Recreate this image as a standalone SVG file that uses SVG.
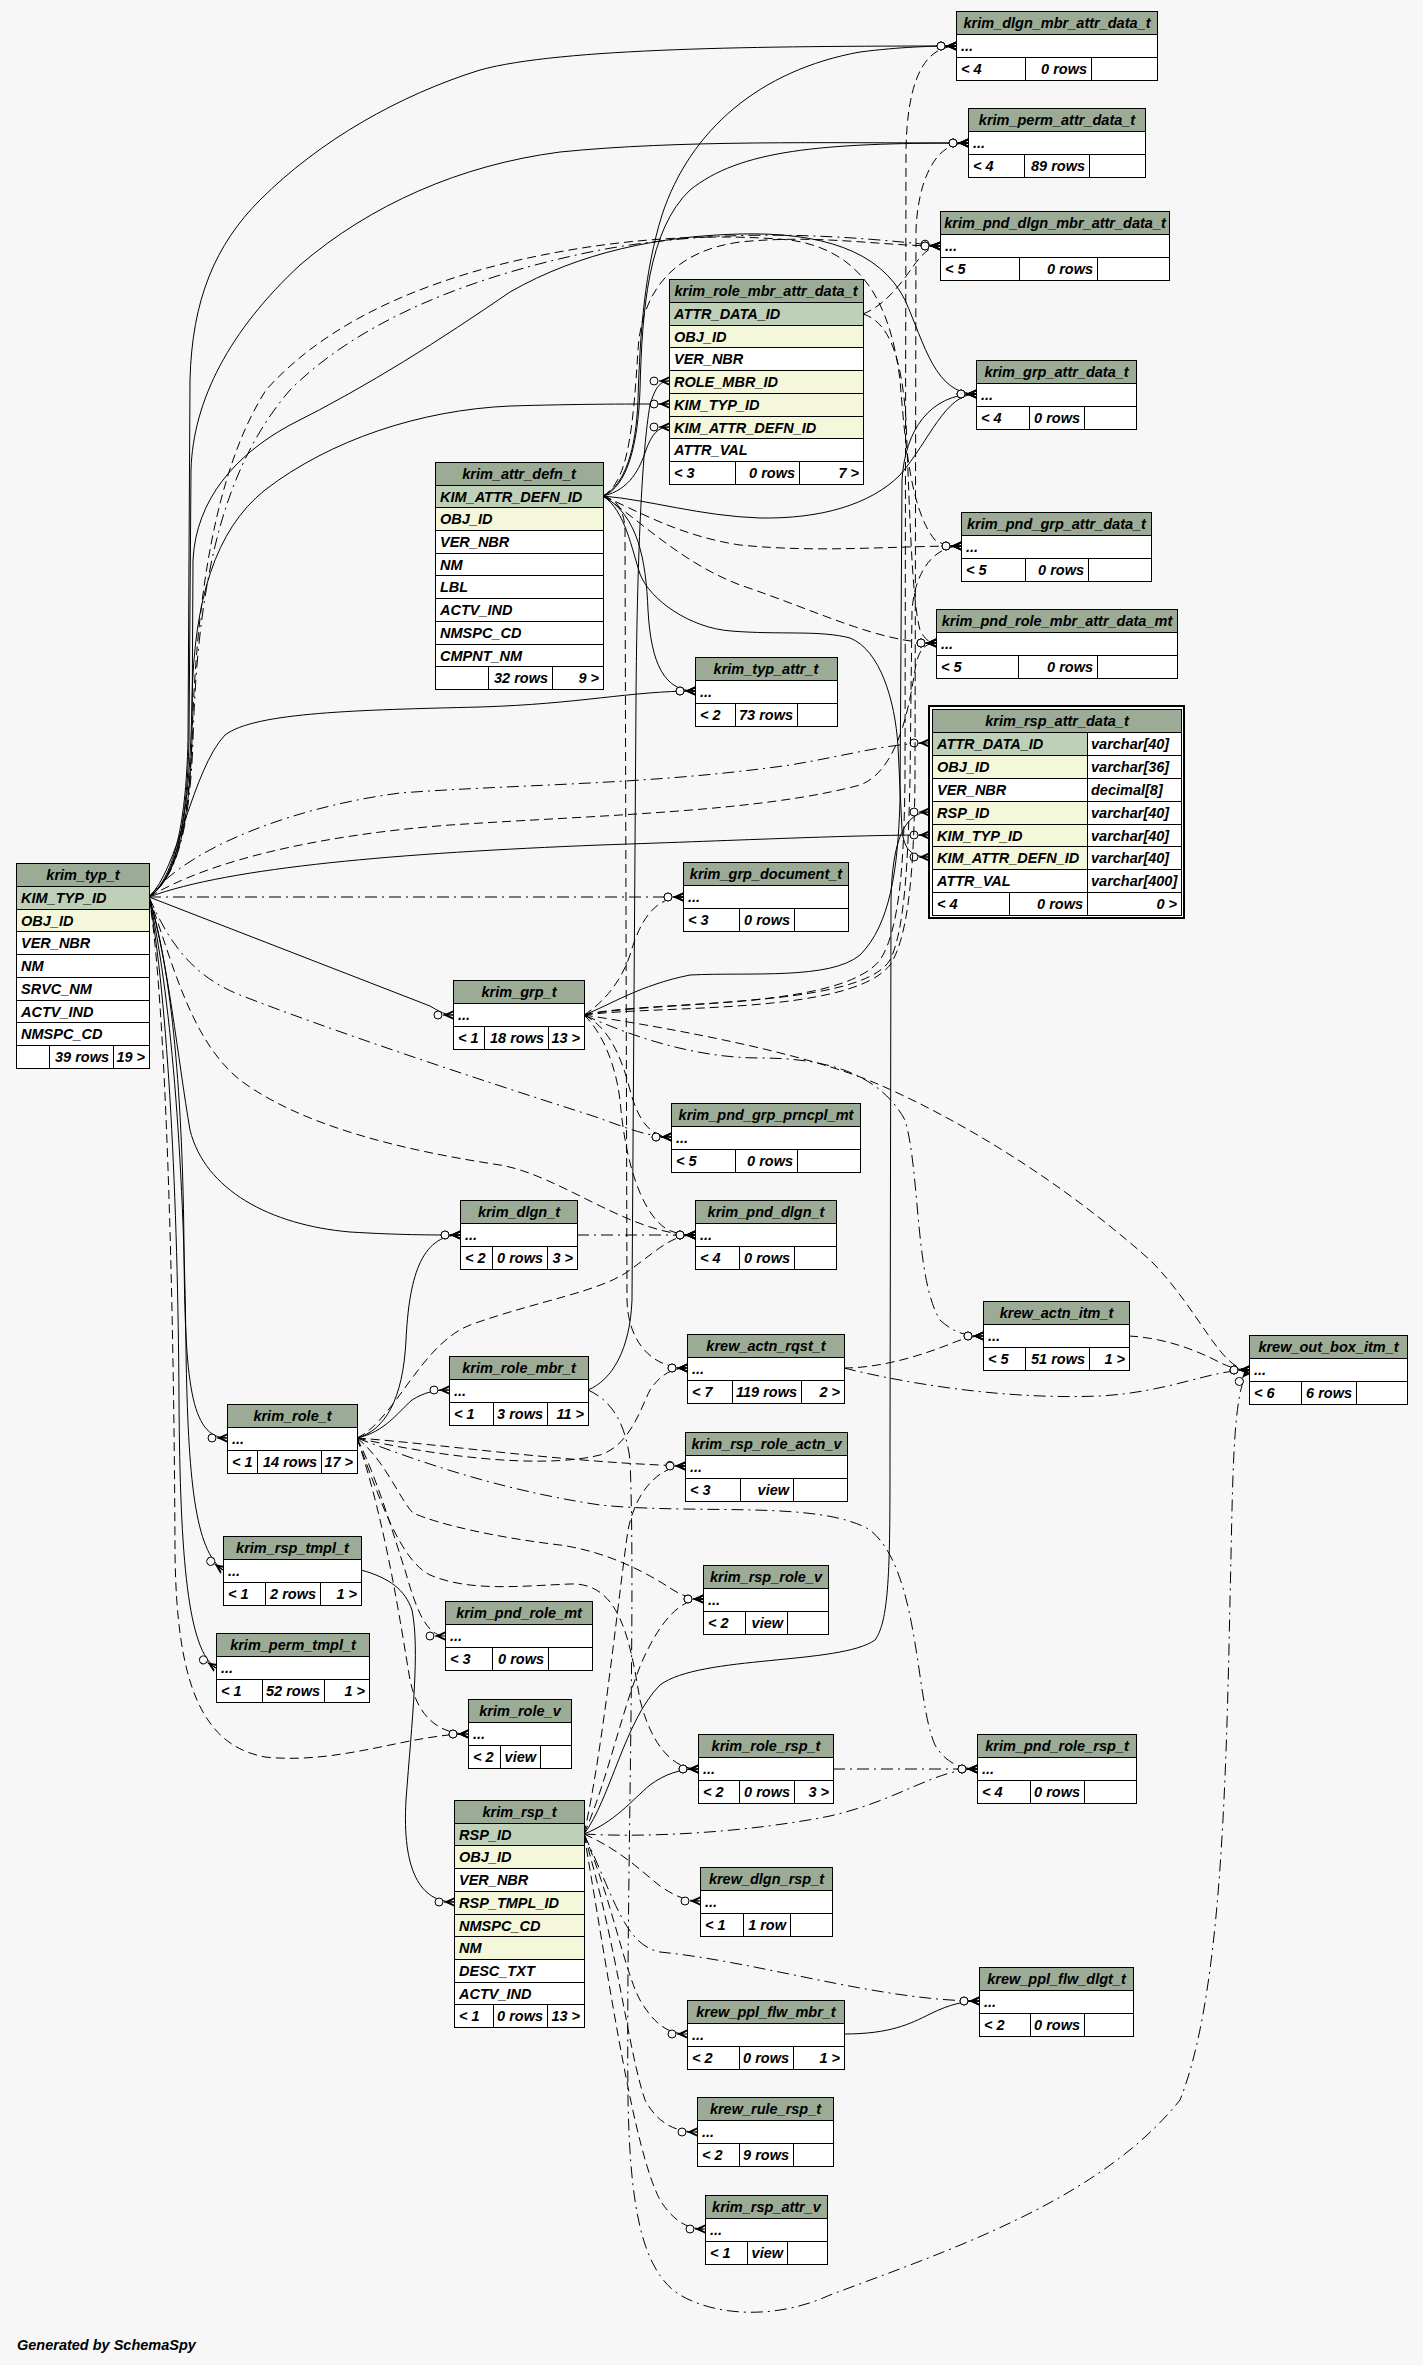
<svg xmlns="http://www.w3.org/2000/svg" width="1423" height="2365" viewBox="0 0 1423 2365">
<style>
text{font-family:"Liberation Sans",Arial,Helvetica,sans-serif;font-weight:bold;font-style:italic;font-size:14.5px;fill:#000}
.c{text-anchor:middle}
.r{text-anchor:end}
.h{fill:#9bab96;stroke:#000}
.pk{fill:#bed1b8;stroke:#000}
.ix{fill:#f4f7da;stroke:#000}
.w{fill:#fff;stroke:#000}
.sp{stroke:#000;fill:none}
.e{fill:none;stroke:#000;stroke-width:1;marker-end:url(#crow)}
.d{stroke-dasharray:9 5}
.dd{stroke-dasharray:12 5 2 5}
</style>
<defs>
<marker id="crow" viewBox="-22 -7 24 14" refX="0" refY="0" markerWidth="24" markerHeight="14" markerUnits="userSpaceOnUse" orient="auto">
<circle cx="-15" cy="0" r="4" fill="#f7f7f7" stroke="#000" stroke-width="1"/>
<path d="M0,-4.5 L-10,0 L0,4.5 L0,2.5 L-5,0 L0,-2.5 Z" fill="#000" stroke="none"/>
<path d="M-10,0 L0,0" stroke="#000" stroke-width="1"/>
</marker>
</defs>
<rect x="0" y="0" width="1423" height="2365" fill="#f7f7f7"/>

<g id="connectors">
<!-- from krim_typ_t -->
<path class="e" d="M149,897 C172,880 186,830 188,740 L190,380 C192,300 215,245 260,200 C320,140 400,95 480,70 C560,48 760,46 956,46"/>
<path class="e" d="M149,897 C174,880 187,830 189,740 L191,470 C193,400 230,330 300,265 C370,205 460,165 560,152 C680,140 820,143 968,143"/>
<path class="e dd" d="M149,897 C176,878 190,830 193,740 C198,560 230,460 290,390 C350,330 450,280 600,250 C730,226 850,236 940,246"/>
<path class="e d" d="M149,897 C176,878 188,830 192,740 C196,600 215,470 266,390 C320,330 400,290 502,264 C600,240 700,232 790,240 C860,250 890,300 900,380 C905,440 910,510 935,540 C945,546 952,546 961,546"/>
<path class="e" d="M149,897 C176,878 189,830 192,740 L193,560 C196,500 235,455 290,425 C370,385 440,340 510,292 C580,252 660,236 740,234 C820,232 880,250 905,300 C925,345 935,394 976,394"/>
<path class="e" d="M149,897 C177,878 190,820 192,700 C194,600 215,530 265,490 C330,440 420,410 510,406 C580,404 620,404 669,404"/>
<path class="e" d="M149,897 C178,870 192,770 225,735 C255,712 360,710 480,707 C580,704 630,691 695,691"/>
<path class="e d" d="M149,897 C210,860 320,835 450,825 C600,815 760,812 860,785 C900,770 910,700 915,670 C918,650 925,643 936,643"/>
<path class="e dd" d="M149,897 C190,845 300,806 400,793 C520,784 650,785 790,765 C850,755 890,743 929,743"/>
<path class="e" d="M149,897 C230,867 400,853 600,845 C750,840 850,835 929,835"/>
<path class="e dd" d="M149,897 L683,897"/>
<path class="e" d="M149,897 L430,1006 C440,1012 446,1015 453,1015"/>
<path class="e dd" d="M149,897 C168,940 190,975 240,995 C330,1030 480,1080 590,1115 C620,1125 645,1137 671,1137"/>
<path class="e d" d="M149,897 C172,960 190,1040 240,1080 C300,1125 400,1150 500,1165 C560,1175 630,1235 695,1235"/>
<path class="e" d="M149,897 C168,960 178,1060 190,1130 C205,1190 270,1225 350,1232 C400,1235 430,1235 460,1235"/>
<path class="e" d="M149,897 C172,970 183,1100 184,1250 C185,1380 190,1438 227,1438"/>
<path class="e" d="M149,897 C170,990 184,1150 186,1350 C188,1480 195,1550 223,1570"/>
<path class="e" d="M149,897 C168,1000 178,1200 179,1400 C180,1560 188,1650 216,1668"/>
<path class="e d" d="M149,897 C166,1000 174,1300 175,1550 C176,1680 200,1745 265,1757 C340,1765 410,1734 468,1734"/>
<!-- from krim_attr_defn_t -->
<path class="e" d="M603,496 C625,485 636,450 638,400 C640,330 645,270 662,215 C690,130 760,70 860,52 C900,47 930,46 956,46"/>
<path class="e" d="M603,496 C627,487 638,445 640,390 C642,310 648,230 690,190 C740,150 820,143 968,143"/>
<path class="e d" d="M603,496 C628,482 633,430 638,350 C642,285 680,250 740,242 C820,234 880,246 940,246"/>
<path class="e" d="M603,496 C630,490 640,468 646,450 C652,434 658,427 669,427"/>
<path class="e" d="M603,496 C650,500 700,516 760,518 C820,519 870,505 900,475 C930,440 945,394 976,394"/>
<path class="e d" d="M603,496 C640,512 680,536 740,545 C820,553 890,546 961,546"/>
<path class="e d" d="M603,496 C640,520 680,562 740,585 C820,612 880,643 936,643"/>
<path class="e" d="M603,496 C638,515 646,560 648,610 C651,665 665,691 695,691"/>
<path class="e" d="M603,496 C625,510 632,550 640,574 C650,600 690,628 731,631 C780,635 820,630 850,638 C880,650 895,700 898,746 L902,830 C904,850 912,857 929,857"/>
<path class="e d" d="M603,496 C618,500 624,510 625,530 L627,1300 C628,1340 650,1368 687,1368"/>
<!-- from krim_role_mbr_attr_data_t -->
<path class="e d" d="M863,314 C885,305 900,285 912,268 C922,254 930,246 940,246"/>
<path class="e d" d="M863,314 C890,322 902,360 906,420 C910,520 912,600 920,630 C925,640 930,643 936,643"/>
<!-- from krim_grp_t -->
<path class="e" d="M584,1015 C610,1005 640,985 690,975 C750,972 830,980 860,955 C890,925 898,870 900,800 L902,480 C905,430 930,394 976,394"/>
<path class="e d" d="M584,1015 C640,1000 860,1010 890,960 C905,930 908,860 910,780 L912,610 C915,570 935,546 961,546"/>
<path class="e d" d="M584,1015 C600,1005 620,985 630,955 C640,920 655,897 683,897"/>
<path class="e d" d="M584,1015 C605,1025 620,1050 630,1090 C638,1120 650,1137 671,1137"/>
<path class="e d" d="M584,1015 C650,1025 800,1050 880,1085 C960,1120 1060,1180 1150,1260 C1200,1310 1220,1370 1249,1370"/>
<path class="e dd" d="M584,1015 C640,1040 700,1058 760,1058 C830,1058 880,1075 905,1120 C920,1170 915,1280 940,1320 C955,1334 968,1336 983,1336"/>
<path class="e d" d="M584,1015 C660,1000 840,1010 880,960 C900,930 904,860 905,780 L906,150 C907,90 920,55 945,48 C950,46 953,46 956,46"/>
<path class="e d" d="M584,1015 C660,1005 850,1015 890,965 C910,935 914,860 915,780 L916,230 C918,180 935,150 955,145 C960,143 964,143 968,143"/>
<path class="e d" d="M584,1015 C600,1030 615,1060 620,1100 C625,1160 640,1210 665,1228 C675,1234 685,1235 695,1235"/>
<!-- from krim_role_t -->
<path class="e" d="M357,1438 C385,1432 398,1412 412,1400 C425,1392 435,1390 449,1390"/>
<path class="e" d="M357,1438 C385,1430 403,1400 406,1340 C409,1280 420,1235 460,1235"/>
<path class="e d" d="M357,1438 C395,1420 420,1345 470,1325 C540,1300 600,1292 630,1270 C660,1248 672,1235 695,1235"/>
<path class="e d" d="M357,1438 C450,1445 560,1462 685,1466"/>
<path class="e dd" d="M357,1438 C420,1462 500,1490 600,1505 C700,1515 820,1500 870,1530 C920,1570 915,1700 935,1745 C945,1762 960,1769 977,1769"/>
<path class="e d" d="M357,1438 C385,1460 400,1500 413,1513 C440,1525 500,1538 560,1545 C610,1552 650,1575 670,1588 C682,1596 692,1599 703,1599"/>
<path class="e d" d="M357,1438 C378,1480 395,1540 405,1570 C415,1605 425,1636 445,1636"/>
<path class="e d" d="M357,1438 C385,1520 400,1620 410,1680 C418,1718 440,1734 468,1734"/>
<path class="e d" d="M357,1438 C380,1500 400,1560 430,1575 C470,1592 520,1586 570,1584 C620,1582 630,1640 640,1700 C650,1740 670,1769 698,1769"/>
<path class="e d" d="M357,1438 C430,1455 540,1470 600,1455 C630,1445 640,1410 650,1390 C660,1375 672,1368 687,1368"/>
<!-- from krim_rsp_t -->
<path class="e" d="M584,1834 C610,1800 625,1720 660,1685 C700,1655 840,1665 875,1640 C890,1620 890,1560 890,1450 L891,900 C892,840 905,812 929,812"/>
<path class="e" d="M584,1834 C615,1822 632,1800 650,1785 C665,1774 680,1769 698,1769"/>
<path class="e dd" d="M584,1834 C650,1838 750,1832 830,1816 C900,1800 935,1769 977,1769"/>
<path class="e d" d="M584,1834 C620,1850 640,1870 660,1886 C676,1897 688,1901 700,1901"/>
<path class="e dd" d="M584,1834 C615,1900 625,1945 660,1952 C760,1962 880,2001 979,2001"/>
<path class="e d" d="M584,1834 C612,1900 624,1970 640,2000 C654,2024 668,2034 687,2034"/>
<path class="e d" d="M584,1834 C618,1950 628,2050 645,2100 C658,2124 676,2132 697,2132"/>
<path class="e d" d="M584,1834 C612,2000 634,2150 660,2200 C674,2222 688,2229 705,2229"/>
<path class="e d" d="M584,1834 C608,1780 624,1700 645,1655 C662,1620 680,1599 703,1599"/>
<path class="e d" d="M584,1834 C603,1750 618,1600 628,1530 C636,1490 660,1466 685,1466"/>
<!-- from krim_role_mbr_t -->
<path class="e dd" d="M588,1390 C610,1400 625,1420 630,1460 C636,1600 626,1900 628,2100 C630,2200 640,2270 680,2295 C720,2318 780,2318 830,2295 C950,2250 1100,2200 1180,2100 C1220,2000 1226,1800 1230,1600 C1233,1480 1232,1390 1249,1370"/>
<path class="e" d="M588,1390 C612,1380 630,1350 632,1300 L636,700 C637,560 642,450 650,405 C655,388 660,381 669,381"/>
<!-- others -->
<path class="e d" d="M844,1368 C880,1368 920,1356 950,1344 C962,1339 972,1336 983,1336"/>
<path class="e dd" d="M844,1368 C900,1382 1000,1400 1100,1396 C1170,1392 1210,1370 1249,1370"/>
<path class="e d" d="M1129,1336 C1165,1338 1195,1350 1215,1360 C1228,1367 1238,1370 1249,1370"/>
<path class="e dd" d="M577,1235 L695,1235"/>
<path class="e" d="M361,1570 C390,1578 405,1590 412,1610 C420,1650 412,1720 406,1800 C402,1870 420,1902 454,1902"/>
<path class="e dd" d="M833,1769 L977,1769"/>
<path class="e" d="M844,2034 C890,2034 910,2024 930,2014 C950,2004 965,2001 979,2001"/>
</g>

<g id="krim_dlgn_mbr_attr_data_t">
<rect class="h" x="956.5" y="11.5" width="201" height="23"/>
<rect class="w" x="956.5" y="34.5" width="201" height="23"/>
<rect class="w" x="956.5" y="57.5" width="201" height="23"/>
<path class="sp" d="M1025.5,57.5V80.5M1091.5,57.5V80.5"/>
<text class="c" x="1057" y="28">krim_dlgn_mbr_attr_data_t</text>
<text x="961" y="51">...</text>
<text x="961" y="74">&lt; 4</text>
<text class="r" x="1087" y="74">0 rows</text>
</g>

<g id="krim_perm_attr_data_t">
<rect class="h" x="968.5" y="108.5" width="177" height="23"/>
<rect class="w" x="968.5" y="131.5" width="177" height="23"/>
<rect class="w" x="968.5" y="154.5" width="177" height="23"/>
<path class="sp" d="M1024.5,154.5V177.5M1089.5,154.5V177.5"/>
<text class="c" x="1057" y="125">krim_perm_attr_data_t</text>
<text x="973" y="148">...</text>
<text x="973" y="171">&lt; 4</text>
<text class="r" x="1085" y="171">89 rows</text>
</g>

<g id="krim_pnd_dlgn_mbr_attr_data_t">
<rect class="h" x="940.5" y="211.5" width="229" height="23"/>
<rect class="w" x="940.5" y="234.5" width="229" height="23"/>
<rect class="w" x="940.5" y="257.5" width="229" height="23"/>
<path class="sp" d="M1019.5,257.5V280.5M1097.5,257.5V280.5"/>
<text class="c" x="1055" y="228">krim_pnd_dlgn_mbr_attr_data_t</text>
<text x="945" y="251">...</text>
<text x="945" y="274">&lt; 5</text>
<text class="r" x="1093" y="274">0 rows</text>
</g>

<g id="krim_role_mbr_attr_data_t">
<rect class="h" x="669.5" y="279.5" width="194" height="23"/>
<rect class="pk" x="669.5" y="302.5" width="194" height="23"/>
<rect class="ix" x="669.5" y="325.5" width="194" height="22"/>
<rect class="w" x="669.5" y="347.5" width="194" height="23"/>
<rect class="ix" x="669.5" y="370.5" width="194" height="23"/>
<rect class="ix" x="669.5" y="393.5" width="194" height="23"/>
<rect class="ix" x="669.5" y="416.5" width="194" height="22"/>
<rect class="w" x="669.5" y="438.5" width="194" height="23"/>
<rect class="w" x="669.5" y="461.5" width="194" height="23"/>
<path class="sp" d="M735.5,461.5V484.5M799.5,461.5V484.5"/>
<text class="c" x="766" y="296">krim_role_mbr_attr_data_t</text>
<text x="674" y="319">ATTR_DATA_ID</text>
<text x="674" y="341.5">OBJ_ID</text>
<text x="674" y="364">VER_NBR</text>
<text x="674" y="387">ROLE_MBR_ID</text>
<text x="674" y="410">KIM_TYP_ID</text>
<text x="674" y="432.5">KIM_ATTR_DEFN_ID</text>
<text x="674" y="455">ATTR_VAL</text>
<text x="674" y="478">&lt; 3</text>
<text class="r" x="795" y="478">0 rows</text>
<text class="r" x="859" y="478">7 &gt;</text>
</g>

<g id="krim_attr_defn_t">
<rect class="h" x="435.5" y="462.5" width="168" height="23"/>
<rect class="pk" x="435.5" y="485.5" width="168" height="22"/>
<rect class="ix" x="435.5" y="507.5" width="168" height="23"/>
<rect class="w" x="435.5" y="530.5" width="168" height="23"/>
<rect class="w" x="435.5" y="553.5" width="168" height="22"/>
<rect class="w" x="435.5" y="575.5" width="168" height="23"/>
<rect class="w" x="435.5" y="598.5" width="168" height="23"/>
<rect class="w" x="435.5" y="621.5" width="168" height="23"/>
<rect class="w" x="435.5" y="644.5" width="168" height="22"/>
<rect class="w" x="435.5" y="666.5" width="168" height="23"/>
<path class="sp" d="M488.5,666.5V689.5M552.5,666.5V689.5"/>
<text class="c" x="519" y="479">krim_attr_defn_t</text>
<text x="440" y="501.5">KIM_ATTR_DEFN_ID</text>
<text x="440" y="524">OBJ_ID</text>
<text x="440" y="547">VER_NBR</text>
<text x="440" y="569.5">NM</text>
<text x="440" y="592">LBL</text>
<text x="440" y="615">ACTV_IND</text>
<text x="440" y="638">NMSPC_CD</text>
<text x="440" y="660.5">CMPNT_NM</text>
<text class="r" x="548" y="683">32 rows</text>
<text class="r" x="599" y="683">9 &gt;</text>
</g>

<g id="krim_typ_attr_t">
<rect class="h" x="695.5" y="657.5" width="142" height="23"/>
<rect class="w" x="695.5" y="680.5" width="142" height="23"/>
<rect class="w" x="695.5" y="703.5" width="142" height="23"/>
<path class="sp" d="M735.5,703.5V726.5M797.5,703.5V726.5"/>
<text class="c" x="766" y="674">krim_typ_attr_t</text>
<text x="700" y="697">...</text>
<text x="700" y="720">&lt; 2</text>
<text class="r" x="793" y="720">73 rows</text>
</g>

<g id="krim_grp_attr_data_t">
<rect class="h" x="976.5" y="360.5" width="160" height="23"/>
<rect class="w" x="976.5" y="383.5" width="160" height="23"/>
<rect class="w" x="976.5" y="406.5" width="160" height="23"/>
<path class="sp" d="M1029.5,406.5V429.5M1084.5,406.5V429.5"/>
<text class="c" x="1056.5" y="377">krim_grp_attr_data_t</text>
<text x="981" y="400">...</text>
<text x="981" y="423">&lt; 4</text>
<text class="r" x="1080" y="423">0 rows</text>
</g>

<g id="krim_pnd_grp_attr_data_t">
<rect class="h" x="961.5" y="512.5" width="190" height="23"/>
<rect class="w" x="961.5" y="535.5" width="190" height="23"/>
<rect class="w" x="961.5" y="558.5" width="190" height="23"/>
<path class="sp" d="M1025.5,558.5V581.5M1088.5,558.5V581.5"/>
<text class="c" x="1056.5" y="529">krim_pnd_grp_attr_data_t</text>
<text x="966" y="552">...</text>
<text x="966" y="575">&lt; 5</text>
<text class="r" x="1084" y="575">0 rows</text>
</g>

<g id="krim_pnd_role_mbr_attr_data_mt">
<rect class="h" x="936.5" y="609.5" width="241" height="23"/>
<rect class="w" x="936.5" y="632.5" width="241" height="23"/>
<rect class="w" x="936.5" y="655.5" width="241" height="23"/>
<path class="sp" d="M1018.5,655.5V678.5M1097.5,655.5V678.5"/>
<text class="c" x="1057" y="626">krim_pnd_role_mbr_attr_data_mt</text>
<text x="941" y="649">...</text>
<text x="941" y="672">&lt; 5</text>
<text class="r" x="1093" y="672">0 rows</text>
</g>

<g id="krim_rsp_attr_data_t">
<rect x="929" y="706" width="255" height="212" fill="#fff" stroke="#000" stroke-width="2"/>
<rect class="h" x="932.5" y="709.5" width="249" height="23"/>
<rect class="pk" x="932.5" y="732.5" width="155" height="23"/>
<rect class="w" x="1087.5" y="732.5" width="94" height="23"/>
<rect class="ix" x="932.5" y="755.5" width="155" height="23"/>
<rect class="w" x="1087.5" y="755.5" width="94" height="23"/>
<rect class="w" x="932.5" y="778.5" width="155" height="23"/>
<rect class="w" x="1087.5" y="778.5" width="94" height="23"/>
<rect class="ix" x="932.5" y="801.5" width="155" height="23"/>
<rect class="w" x="1087.5" y="801.5" width="94" height="23"/>
<rect class="ix" x="932.5" y="824.5" width="155" height="22"/>
<rect class="w" x="1087.5" y="824.5" width="94" height="22"/>
<rect class="ix" x="932.5" y="846.5" width="155" height="23"/>
<rect class="w" x="1087.5" y="846.5" width="94" height="23"/>
<rect class="w" x="932.5" y="869.5" width="155" height="23"/>
<rect class="w" x="1087.5" y="869.5" width="94" height="23"/>
<rect class="w" x="932.5" y="892.5" width="249" height="23"/>
<path class="sp" d="M1009.5,892.5V915.5M1087.5,892.5V915.5"/>
<text class="c" x="1057" y="726">krim_rsp_attr_data_t</text>
<text x="937" y="749">ATTR_DATA_ID</text>
<text x="1091" y="749">varchar[40]</text>
<text x="937" y="772">OBJ_ID</text>
<text x="1091" y="772">varchar[36]</text>
<text x="937" y="795">VER_NBR</text>
<text x="1091" y="795">decimal[8]</text>
<text x="937" y="818">RSP_ID</text>
<text x="1091" y="818">varchar[40]</text>
<text x="937" y="840.5">KIM_TYP_ID</text>
<text x="1091" y="840.5">varchar[40]</text>
<text x="937" y="863">KIM_ATTR_DEFN_ID</text>
<text x="1091" y="863">varchar[40]</text>
<text x="937" y="886">ATTR_VAL</text>
<text x="1091" y="886">varchar[400]</text>
<text x="937" y="909">&lt; 4</text>
<text class="r" x="1083" y="909">0 rows</text>
<text class="r" x="1177" y="909">0 &gt;</text>
</g>

<g id="krim_typ_t">
<rect class="h" x="16.5" y="863.5" width="133" height="23"/>
<rect class="pk" x="16.5" y="886.5" width="133" height="23"/>
<rect class="ix" x="16.5" y="909.5" width="133" height="22"/>
<rect class="w" x="16.5" y="931.5" width="133" height="23"/>
<rect class="w" x="16.5" y="954.5" width="133" height="23"/>
<rect class="w" x="16.5" y="977.5" width="133" height="23"/>
<rect class="w" x="16.5" y="1000.5" width="133" height="22"/>
<rect class="w" x="16.5" y="1022.5" width="133" height="23"/>
<rect class="w" x="16.5" y="1045.5" width="133" height="23"/>
<path class="sp" d="M49.5,1045.5V1068.5M113.5,1045.5V1068.5"/>
<text class="c" x="83" y="880">krim_typ_t</text>
<text x="21" y="903">KIM_TYP_ID</text>
<text x="21" y="925.5">OBJ_ID</text>
<text x="21" y="948">VER_NBR</text>
<text x="21" y="971">NM</text>
<text x="21" y="994">SRVC_NM</text>
<text x="21" y="1016.5">ACTV_IND</text>
<text x="21" y="1039">NMSPC_CD</text>
<text class="r" x="109" y="1062">39 rows</text>
<text class="r" x="145" y="1062">19 &gt;</text>
</g>

<g id="krim_grp_document_t">
<rect class="h" x="683.5" y="862.5" width="165" height="23"/>
<rect class="w" x="683.5" y="885.5" width="165" height="23"/>
<rect class="w" x="683.5" y="908.5" width="165" height="23"/>
<path class="sp" d="M739.5,908.5V931.5M794.5,908.5V931.5"/>
<text class="c" x="766" y="879">krim_grp_document_t</text>
<text x="688" y="902">...</text>
<text x="688" y="925">&lt; 3</text>
<text class="r" x="790" y="925">0 rows</text>
</g>

<g id="krim_grp_t">
<rect class="h" x="453.5" y="980.5" width="131" height="23"/>
<rect class="w" x="453.5" y="1003.5" width="131" height="23"/>
<rect class="w" x="453.5" y="1026.5" width="131" height="23"/>
<path class="sp" d="M484.5,1026.5V1049.5M548.5,1026.5V1049.5"/>
<text class="c" x="519" y="997">krim_grp_t</text>
<text x="458" y="1020">...</text>
<text x="458" y="1043">&lt; 1</text>
<text class="r" x="544" y="1043">18 rows</text>
<text class="r" x="580" y="1043">13 &gt;</text>
</g>

<g id="krim_pnd_grp_prncpl_mt">
<rect class="h" x="671.5" y="1103.5" width="189" height="23"/>
<rect class="w" x="671.5" y="1126.5" width="189" height="23"/>
<rect class="w" x="671.5" y="1149.5" width="189" height="23"/>
<path class="sp" d="M735.5,1149.5V1172.5M797.5,1149.5V1172.5"/>
<text class="c" x="766" y="1120">krim_pnd_grp_prncpl_mt</text>
<text x="676" y="1143">...</text>
<text x="676" y="1166">&lt; 5</text>
<text class="r" x="793" y="1166">0 rows</text>
</g>

<g id="krim_dlgn_t">
<rect class="h" x="460.5" y="1200.5" width="117" height="23"/>
<rect class="w" x="460.5" y="1223.5" width="117" height="23"/>
<rect class="w" x="460.5" y="1246.5" width="117" height="23"/>
<path class="sp" d="M492.5,1246.5V1269.5M547.5,1246.5V1269.5"/>
<text class="c" x="519" y="1217">krim_dlgn_t</text>
<text x="465" y="1240">...</text>
<text x="465" y="1263">&lt; 2</text>
<text class="r" x="543" y="1263">0 rows</text>
<text class="r" x="573" y="1263">3 &gt;</text>
</g>

<g id="krim_pnd_dlgn_t">
<rect class="h" x="695.5" y="1200.5" width="141" height="23"/>
<rect class="w" x="695.5" y="1223.5" width="141" height="23"/>
<rect class="w" x="695.5" y="1246.5" width="141" height="23"/>
<path class="sp" d="M739.5,1246.5V1269.5M794.5,1246.5V1269.5"/>
<text class="c" x="766" y="1217">krim_pnd_dlgn_t</text>
<text x="700" y="1240">...</text>
<text x="700" y="1263">&lt; 4</text>
<text class="r" x="790" y="1263">0 rows</text>
</g>

<g id="krew_actn_itm_t">
<rect class="h" x="983.5" y="1301.5" width="146" height="23"/>
<rect class="w" x="983.5" y="1324.5" width="146" height="23"/>
<rect class="w" x="983.5" y="1347.5" width="146" height="23"/>
<path class="sp" d="M1025.5,1347.5V1370.5M1089.5,1347.5V1370.5"/>
<text class="c" x="1056.5" y="1318">krew_actn_itm_t</text>
<text x="988" y="1341">...</text>
<text x="988" y="1364">&lt; 5</text>
<text class="r" x="1085" y="1364">51 rows</text>
<text class="r" x="1125" y="1364">1 &gt;</text>
</g>

<g id="krew_out_box_itm_t">
<rect class="h" x="1249.5" y="1335.5" width="158" height="23"/>
<rect class="w" x="1249.5" y="1358.5" width="158" height="23"/>
<rect class="w" x="1249.5" y="1381.5" width="158" height="23"/>
<path class="sp" d="M1301.5,1381.5V1404.5M1356.5,1381.5V1404.5"/>
<text class="c" x="1328.5" y="1352">krew_out_box_itm_t</text>
<text x="1254" y="1375">...</text>
<text x="1254" y="1398">&lt; 6</text>
<text class="r" x="1352" y="1398">6 rows</text>
</g>

<g id="krim_role_mbr_t">
<rect class="h" x="449.5" y="1356.5" width="139" height="23"/>
<rect class="w" x="449.5" y="1379.5" width="139" height="23"/>
<rect class="w" x="449.5" y="1402.5" width="139" height="23"/>
<path class="sp" d="M493.5,1402.5V1425.5M547.5,1402.5V1425.5"/>
<text class="c" x="519" y="1373">krim_role_mbr_t</text>
<text x="454" y="1396">...</text>
<text x="454" y="1419">&lt; 1</text>
<text class="r" x="543" y="1419">3 rows</text>
<text class="r" x="584" y="1419">11 &gt;</text>
</g>

<g id="krew_actn_rqst_t">
<rect class="h" x="687.5" y="1334.5" width="157" height="23"/>
<rect class="w" x="687.5" y="1357.5" width="157" height="23"/>
<rect class="w" x="687.5" y="1380.5" width="157" height="23"/>
<path class="sp" d="M732.5,1380.5V1403.5M801.5,1380.5V1403.5"/>
<text class="c" x="766" y="1351">krew_actn_rqst_t</text>
<text x="692" y="1374">...</text>
<text x="692" y="1397">&lt; 7</text>
<text class="r" x="797" y="1397">119 rows</text>
<text class="r" x="840" y="1397">2 &gt;</text>
</g>

<g id="krim_role_t">
<rect class="h" x="227.5" y="1404.5" width="130" height="23"/>
<rect class="w" x="227.5" y="1427.5" width="130" height="23"/>
<rect class="w" x="227.5" y="1450.5" width="130" height="23"/>
<path class="sp" d="M257.5,1450.5V1473.5M321.5,1450.5V1473.5"/>
<text class="c" x="292.5" y="1421">krim_role_t</text>
<text x="232" y="1444">...</text>
<text x="232" y="1467">&lt; 1</text>
<text class="r" x="317" y="1467">14 rows</text>
<text class="r" x="353" y="1467">17 &gt;</text>
</g>

<g id="krim_rsp_role_actn_v">
<rect class="h" x="685.5" y="1432.5" width="162" height="23"/>
<rect class="w" x="685.5" y="1455.5" width="162" height="23"/>
<rect class="w" x="685.5" y="1478.5" width="162" height="23"/>
<path class="sp" d="M740.5,1478.5V1501.5M793.5,1478.5V1501.5"/>
<text class="c" x="766.5" y="1449">krim_rsp_role_actn_v</text>
<text x="690" y="1472">...</text>
<text x="690" y="1495">&lt; 3</text>
<text class="r" x="789" y="1495">view</text>
</g>

<g id="krim_rsp_tmpl_t">
<rect class="h" x="223.5" y="1536.5" width="138" height="23"/>
<rect class="w" x="223.5" y="1559.5" width="138" height="23"/>
<rect class="w" x="223.5" y="1582.5" width="138" height="23"/>
<path class="sp" d="M265.5,1582.5V1605.5M320.5,1582.5V1605.5"/>
<text class="c" x="292.5" y="1553">krim_rsp_tmpl_t</text>
<text x="228" y="1576">...</text>
<text x="228" y="1599">&lt; 1</text>
<text class="r" x="316" y="1599">2 rows</text>
<text class="r" x="357" y="1599">1 &gt;</text>
</g>

<g id="krim_perm_tmpl_t">
<rect class="h" x="216.5" y="1633.5" width="153" height="23"/>
<rect class="w" x="216.5" y="1656.5" width="153" height="23"/>
<rect class="w" x="216.5" y="1679.5" width="153" height="23"/>
<path class="sp" d="M262.5,1679.5V1702.5M324.5,1679.5V1702.5"/>
<text class="c" x="293" y="1650">krim_perm_tmpl_t</text>
<text x="221" y="1673">...</text>
<text x="221" y="1696">&lt; 1</text>
<text class="r" x="320" y="1696">52 rows</text>
<text class="r" x="365" y="1696">1 &gt;</text>
</g>

<g id="krim_pnd_role_mt">
<rect class="h" x="445.5" y="1601.5" width="147" height="23"/>
<rect class="w" x="445.5" y="1624.5" width="147" height="23"/>
<rect class="w" x="445.5" y="1647.5" width="147" height="23"/>
<path class="sp" d="M492.5,1647.5V1670.5M548.5,1647.5V1670.5"/>
<text class="c" x="519" y="1618">krim_pnd_role_mt</text>
<text x="450" y="1641">...</text>
<text x="450" y="1664">&lt; 3</text>
<text class="r" x="544" y="1664">0 rows</text>
</g>

<g id="krim_rsp_role_v">
<rect class="h" x="703.5" y="1565.5" width="125" height="23"/>
<rect class="w" x="703.5" y="1588.5" width="125" height="23"/>
<rect class="w" x="703.5" y="1611.5" width="125" height="23"/>
<path class="sp" d="M745.5,1611.5V1634.5M787.5,1611.5V1634.5"/>
<text class="c" x="766" y="1582">krim_rsp_role_v</text>
<text x="708" y="1605">...</text>
<text x="708" y="1628">&lt; 2</text>
<text class="r" x="783" y="1628">view</text>
</g>

<g id="krim_role_v">
<rect class="h" x="468.5" y="1699.5" width="103" height="23"/>
<rect class="w" x="468.5" y="1722.5" width="103" height="23"/>
<rect class="w" x="468.5" y="1745.5" width="103" height="23"/>
<path class="sp" d="M500.5,1745.5V1768.5M540.5,1745.5V1768.5"/>
<text class="c" x="520" y="1716">krim_role_v</text>
<text x="473" y="1739">...</text>
<text x="473" y="1762">&lt; 2</text>
<text class="r" x="536" y="1762">view</text>
</g>

<g id="krim_role_rsp_t">
<rect class="h" x="698.5" y="1734.5" width="135" height="23"/>
<rect class="w" x="698.5" y="1757.5" width="135" height="23"/>
<rect class="w" x="698.5" y="1780.5" width="135" height="23"/>
<path class="sp" d="M739.5,1780.5V1803.5M794.5,1780.5V1803.5"/>
<text class="c" x="766" y="1751">krim_role_rsp_t</text>
<text x="703" y="1774">...</text>
<text x="703" y="1797">&lt; 2</text>
<text class="r" x="790" y="1797">0 rows</text>
<text class="r" x="829" y="1797">3 &gt;</text>
</g>

<g id="krim_pnd_role_rsp_t">
<rect class="h" x="977.5" y="1734.5" width="159" height="23"/>
<rect class="w" x="977.5" y="1757.5" width="159" height="23"/>
<rect class="w" x="977.5" y="1780.5" width="159" height="23"/>
<path class="sp" d="M1030.5,1780.5V1803.5M1084.5,1780.5V1803.5"/>
<text class="c" x="1057" y="1751">krim_pnd_role_rsp_t</text>
<text x="982" y="1774">...</text>
<text x="982" y="1797">&lt; 4</text>
<text class="r" x="1080" y="1797">0 rows</text>
</g>

<g id="krim_rsp_t">
<rect class="h" x="454.5" y="1800.5" width="130" height="23"/>
<rect class="pk" x="454.5" y="1823.5" width="130" height="22"/>
<rect class="ix" x="454.5" y="1845.5" width="130" height="23"/>
<rect class="w" x="454.5" y="1868.5" width="130" height="23"/>
<rect class="ix" x="454.5" y="1891.5" width="130" height="23"/>
<rect class="ix" x="454.5" y="1914.5" width="130" height="22"/>
<rect class="ix" x="454.5" y="1936.5" width="130" height="23"/>
<rect class="w" x="454.5" y="1959.5" width="130" height="23"/>
<rect class="w" x="454.5" y="1982.5" width="130" height="22"/>
<rect class="w" x="454.5" y="2004.5" width="130" height="23"/>
<path class="sp" d="M493.5,2004.5V2027.5M547.5,2004.5V2027.5"/>
<text class="c" x="519.5" y="1817">krim_rsp_t</text>
<text x="459" y="1839.5">RSP_ID</text>
<text x="459" y="1862">OBJ_ID</text>
<text x="459" y="1885">VER_NBR</text>
<text x="459" y="1908">RSP_TMPL_ID</text>
<text x="459" y="1930.5">NMSPC_CD</text>
<text x="459" y="1953">NM</text>
<text x="459" y="1976">DESC_TXT</text>
<text x="459" y="1998.5">ACTV_IND</text>
<text x="459" y="2021">&lt; 1</text>
<text class="r" x="543" y="2021">0 rows</text>
<text class="r" x="580" y="2021">13 &gt;</text>
</g>

<g id="krew_dlgn_rsp_t">
<rect class="h" x="700.5" y="1867.5" width="132" height="23"/>
<rect class="w" x="700.5" y="1890.5" width="132" height="23"/>
<rect class="w" x="700.5" y="1913.5" width="132" height="23"/>
<path class="sp" d="M743.5,1913.5V1936.5M790.5,1913.5V1936.5"/>
<text class="c" x="766.5" y="1884">krew_dlgn_rsp_t</text>
<text x="705" y="1907">...</text>
<text x="705" y="1930">&lt; 1</text>
<text class="r" x="786" y="1930">1 row</text>
</g>

<g id="krew_ppl_flw_dlgt_t">
<rect class="h" x="979.5" y="1967.5" width="154" height="23"/>
<rect class="w" x="979.5" y="1990.5" width="154" height="23"/>
<rect class="w" x="979.5" y="2013.5" width="154" height="23"/>
<path class="sp" d="M1030.5,2013.5V2036.5M1084.5,2013.5V2036.5"/>
<text class="c" x="1056.5" y="1984">krew_ppl_flw_dlgt_t</text>
<text x="984" y="2007">...</text>
<text x="984" y="2030">&lt; 2</text>
<text class="r" x="1080" y="2030">0 rows</text>
</g>

<g id="krew_ppl_flw_mbr_t">
<rect class="h" x="687.5" y="2000.5" width="157" height="23"/>
<rect class="w" x="687.5" y="2023.5" width="157" height="23"/>
<rect class="w" x="687.5" y="2046.5" width="157" height="23"/>
<path class="sp" d="M739.5,2046.5V2069.5M793.5,2046.5V2069.5"/>
<text class="c" x="766" y="2017">krew_ppl_flw_mbr_t</text>
<text x="692" y="2040">...</text>
<text x="692" y="2063">&lt; 2</text>
<text class="r" x="789" y="2063">0 rows</text>
<text class="r" x="840" y="2063">1 &gt;</text>
</g>

<g id="krew_rule_rsp_t">
<rect class="h" x="697.5" y="2097.5" width="136" height="23"/>
<rect class="w" x="697.5" y="2120.5" width="136" height="23"/>
<rect class="w" x="697.5" y="2143.5" width="136" height="23"/>
<path class="sp" d="M739.5,2143.5V2166.5M793.5,2143.5V2166.5"/>
<text class="c" x="765.5" y="2114">krew_rule_rsp_t</text>
<text x="702" y="2137">...</text>
<text x="702" y="2160">&lt; 2</text>
<text class="r" x="789" y="2160">9 rows</text>
</g>

<g id="krim_rsp_attr_v">
<rect class="h" x="705.5" y="2195.5" width="122" height="23"/>
<rect class="w" x="705.5" y="2218.5" width="122" height="23"/>
<rect class="w" x="705.5" y="2241.5" width="122" height="23"/>
<path class="sp" d="M747.5,2241.5V2264.5M787.5,2241.5V2264.5"/>
<text class="c" x="766.5" y="2212">krim_rsp_attr_v</text>
<text x="710" y="2235">...</text>
<text x="710" y="2258">&lt; 1</text>
<text class="r" x="783" y="2258">view</text>
</g>

<text x="17" y="2350">Generated by SchemaSpy</text>
</svg>
